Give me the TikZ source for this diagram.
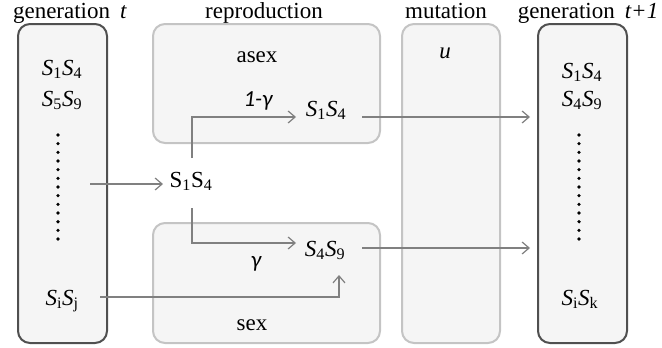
\documentclass[tikz,border=0pt]{standalone}
\usepackage{fontspec}
\setmainfont{Liberation Serif}
\newfontfamily\gfont{Carlito}
\usetikzlibrary{arrows.meta}
\newcommand\pair[2]{\textit{S}\textsubscript{#1}\textit{S}\textsubscript{#2}}
\definecolor{boxfill}{HTML}{F5F5F5}
\definecolor{darkedge}{HTML}{505050}
\definecolor{lightedge}{HTML}{C4C4C4}
\definecolor{arrowcol}{HTML}{808080}
\tikzset{
  genbox/.style={draw=darkedge, fill=boxfill, line width=2pt, rounded corners=12pt},
  procbox/.style={draw=lightedge, fill=boxfill, line width=2pt, rounded corners=12pt},
  lbl/.style={anchor=base, inner sep=0pt, font=\fontsize{23}{27}\selectfont},
  flow/.style={draw=arrowcol, line width=1.2pt, -{Straight Barb[length=7pt,width=12pt]}},
  dotmark/.style={circle, fill=black, inner sep=0pt, minimum size=3.6pt}
}
\begin{document}
\begin{tikzpicture}[x=1pt,y=-1pt]
\useasboundingbox (0,0) rectangle (662,348);
% boxes
\draw[genbox] (18,24) rectangle (107,343);
\draw[procbox] (153,24) rectangle (380,143);
\draw[procbox] (153,223) rectangle (380,343);
\draw[procbox] (402,24) rectangle (500,343);
\draw[genbox] (538,24) rectangle (627,343);
% headings
\node[lbl] (hgt) at (70,18) {generation\hspace{10pt}\textit{t}};
\node[lbl] (hrep) at (264,18) {reproduction};
\node[lbl] (hmut) at (446,18) {mutation};
\node[lbl] (hgt1) at (588,18) {generation\hspace{10pt}\textit{t+1}};
% left generation
\node[lbl] (l1) at (62,75) {\pair{1}{4}};
\node[lbl] (l2) at (62,106) {\pair{5}{9}};
\foreach \k in {0,...,12} { \node[dotmark] (ld\k) at (58,135+8.67*\k) {}; }
\node[lbl] (lij) at (62,305) {\pair{i}{j}};
% right generation
\node[lbl] (r1) at (582,78) {\pair{1}{4}};
\node[lbl] (r2) at (582,106) {\pair{4}{9}};
\foreach \k in {0,...,12} { \node[dotmark] (rd\k) at (579,135+8.67*\k) {}; }
\node[lbl] (rik) at (580,305) {\pair{i}{k}};
% reproduction
\node[lbl] (asex) at (257,62) {asex};
\node[lbl] (oneg) at (258,106) {\gfont\itshape 1-γ};
\node[lbl] (a14) at (326,116) {\pair{1}{4}};
\node[lbl] (mid) at (191,187) {S\textsubscript{1}S\textsubscript{4}};
\node[lbl] (g) at (256,267) {\gfont\itshape γ};
\node[lbl] (s49) at (325,256) {\pair{4}{9}};
\node[lbl] (sex) at (252,330) {sex};
\node[lbl] (u) at (445,58) {\textit{u}};
% connector ends
\coordinate (c1s) at (90,184);
\coordinate (c1e) at (163,184);
\coordinate (c2s) at (192,158);
\coordinate (c2e) at (296,117);
\coordinate (c3s) at (192,208);
\coordinate (c3e) at (296,243);
\coordinate (c4s) at (100,297);
\coordinate (c4e) at (339,275);
\coordinate (c5s) at (362,117);
\coordinate (c5e) at (530,117);
\coordinate (c6s) at (362,248);
\coordinate (c6e) at (530,248);
% connectors
\draw[flow] (c1s) -- (c1e);
\draw[flow] (c2s) |- (c2e);
\draw[flow] (c3s) |- (c3e);
\draw[flow] (c4s) -| (c4e);
\draw[flow] (c5s) -- (c5e);
\draw[flow] (c6s) -- (c6e);
\end{tikzpicture}
\end{document}
